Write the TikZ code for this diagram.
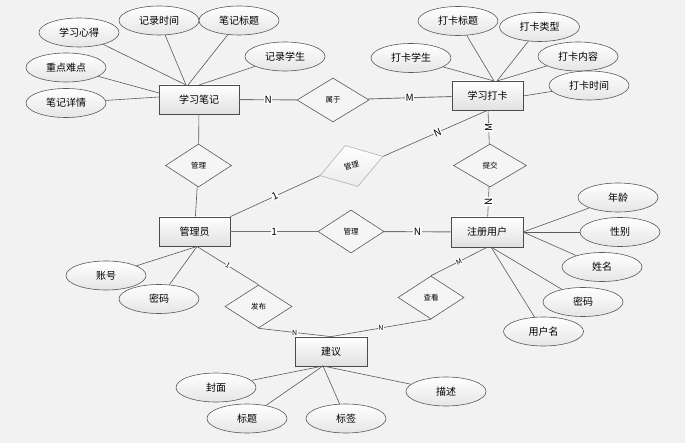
\documentclass[tikz,border=0pt]{standalone}
\usepackage{fontspec}
\setmainfont{Noto Sans CJK SC}
\usetikzlibrary{shapes.geometric,shadows}
\begin{document}
\begin{tikzpicture}[x=1pt,y=-1pt,
 ent/.style={draw=black!70, line width=0.7pt, top color=white, bottom color=black!12, minimum width=71pt, minimum height=29pt, inner sep=0pt, font=\fontsize{10}{12}\selectfont, drop shadow={shadow xshift=1.2pt,shadow yshift=-1.2pt,opacity=0.25}},
 att/.style={ellipse, draw=black!65, line width=0.6pt, top color=white, bottom color=black!10, minimum width=80pt, minimum height=29pt, inner sep=0pt, font=\fontsize{10}{12}\selectfont},
 rel/.style={diamond, draw=black!65, line width=0.6pt, fill=black!4, minimum width=66pt, minimum height=43pt, inner sep=0pt, font=\fontsize{7.5}{9}\selectfont},
 ln/.style={draw=black!65, line width=0.6pt},
 lab/.style={fill=white, inner sep=0.6pt, font=\fontsize{10}{11}\selectfont},
 slab/.style={fill=white, inner sep=0.3pt, font=\fontsize{7}{8}\selectfont},
]
\fill[black!5] (0,0) rectangle (685,443);
\useasboundingbox (0,0) rectangle (685,443);

% entities
\node[ent, minimum width=80pt] (note) at (199,99.5) {学习笔记};
\node[ent] (card) at (487.5,95.5) {学习打卡};
\node[ent] (admin) at (194.5,231.5) {管理员};
\node[ent, minimum width=72pt, minimum height=30pt] (user) at (487,232) {注册用户};
\node[ent, minimum width=72pt] (sug) at (331,351.5) {建议};

% relationships
\node[rel, minimum width=72pt, minimum height=44pt] (belong) at (333,100) {属于};
\node[rel] (m1) at (198.5,165.5) {管理};
\node[rel, draw=black!30, top color=white, bottom color=black!8, rotate=17] (m2) at (351.5,166) {管理};
\node[rel, minimum width=73pt] (submit) at (490,165.5) {提交};
\node[rel] (m3) at (351,231.5) {管理};
\node[rel, minimum width=67pt] (pub) at (258.5,306.5) {发布};
\node[rel] (view) at (431,297.5) {查看};

% attributes
\node[att] (a1) at (79,32.5) {学习心得};
\node[att] (a2) at (159,20.5) {记录时间};
\node[att] (a3) at (239,20.5) {笔记标题};
\node[att] (a4) at (285,56.5) {记录学生};
\node[att] (a5) at (66,67.5) {重点难点};
\node[att] (a6) at (66,103) {笔记详情};

\node[att] (b1) at (458,21) {打卡标题};
\node[att] (b2) at (539.5,27) {打卡类型};
\node[att] (b3) at (411,58) {打卡学生};
\node[att] (b4) at (578,56.5) {打卡内容};
\node[att] (b5) at (589,85.5) {打卡时间};

\node[att] (u1) at (618,197.5) {年龄};
\node[att] (u2) at (620,232) {性别};
\node[att] (u3) at (602,267) {姓名};
\node[att] (u4) at (583,302) {密码};
\node[att] (u5) at (543.5,331.5) {用户名};

\node[att] (c1) at (106,275.5) {账号};
\node[att] (c2) at (159,299) {密码};

\node[att] (s1) at (216,387.5) {封面};
\node[att] (s2) at (247,418.5) {标题};
\node[att] (s3) at (346,418.5) {标签};
\node[att] (s4) at (446,391.5) {描述};

% attachment points
\coordinate (nt1) at (186,85);
\coordinate (nt2) at (188,85);
\coordinate (nt3) at (199,85);
\coordinate (nl1) at (159,93);
\coordinate (nl2) at (159,97);
\coordinate (ct1) at (494,81);
\coordinate (ct2) at (497,81);
\coordinate (cr) at (523,96);
\coordinate (ur) at (523,232);
\coordinate (ub) at (491,247);
\coordinate (as) at (197,246.5);
\coordinate (sb) at (323,366);

% attribute lines
\draw[ln] (a1) -- (nt1);
\draw[ln] (a2) -- (nt1);
\draw[ln] (a3) -- (nt2);
\draw[ln] (a4) -- (nt3);
\draw[ln] (a5) -- (nl1);
\draw[ln] (a6) -- (nl2);
\draw[ln] (b1) -- (ct1);
\draw[ln] (b2) -- (ct2);
\draw[ln] (b3) -- (ct1);
\draw[ln] (b4) -- (ct2);
\draw[ln] (b5) -- (cr);
\draw[ln] (u1) -- (ur);
\draw[ln] (u2) -- (ur);
\draw[ln] (u3) -- (ur);
\draw[ln] (u4) -- (ub);
\draw[ln] (u5) -- (ub);
\draw[ln] (c1) -- (as);
\draw[ln] (c2) -- (as);
\draw[ln] (s1) -- (sb);
\draw[ln] (s2) -- (sb);
\draw[ln] (s3) -- (sb);
\draw[ln] (s4) -- (sb);

% relationship lines
\draw[ln, line width=0.9pt, draw=black!55] (note) -- node[lab]{N} (belong);
\draw[ln, line width=0.9pt, draw=black!55] (belong) -- node[lab]{M} (card);
\draw[ln] (note) -- (m1);
\draw[ln] (m1) -- (admin);
\draw[ln] (admin.north east) -- node[lab, rotate=25]{1} (m2.west);
\draw[ln] (m2.east) -- node[lab, pos=0.52, rotate=23]{N} (card.south);
\draw[ln] (card) -- node[lab, rotate=90]{M} (submit);
\draw[ln] (submit) -- node[lab, rotate=90]{N} (user);
\draw[ln, line width=0.9pt, draw=black!55] (admin) -- node[lab]{1} (m3);
\draw[ln, line width=0.9pt, draw=black!55] (m3) -- node[lab]{N} (user);
\draw[ln] (as) -- node[slab, rotate=-32]{1} (pub.north);
\draw[ln] (pub.south) -- node[slab]{N} (sug.north);
\draw[ln] (sug.north) -- node[slab]{N} (view.south);
\draw[ln] (view.north) -- node[slab, rotate=27]{M} (user.south);
\end{tikzpicture}
\end{document}
